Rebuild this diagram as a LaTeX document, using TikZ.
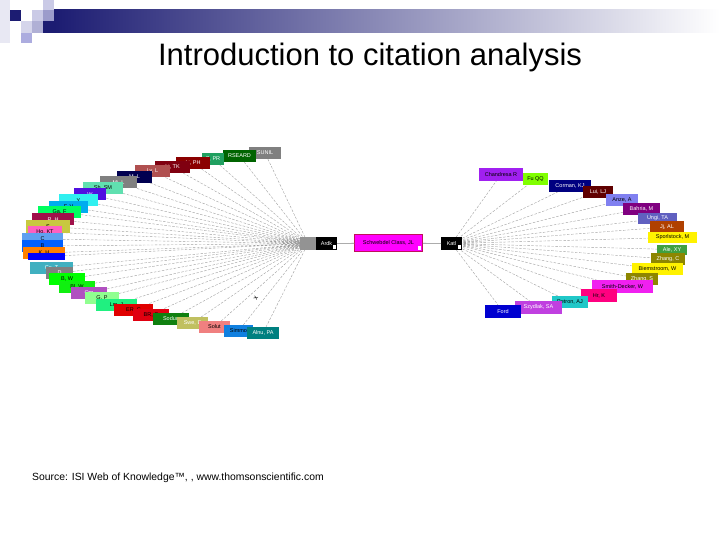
\documentclass[tikz,border=0pt]{standalone}
\usepackage{fontspec}
\setmainfont{Liberation Sans}
\usepackage{xcolor}
\usetikzlibrary{positioning}
\definecolor{barnavy}{HTML}{1C1C72}
\definecolor{faintsq}{HTML}{E8E8F3}
\definecolor{palesq}{HTML}{CACAE6}
\definecolor{midsq}{HTML}{9C9CCB}
\definecolor{magbox}{HTML}{FF00FF}
\definecolor{magedge}{HTML}{C0105A}
\definecolor{navybox}{HTML}{000080}
\pgfdeclarelayer{background}
\pgfsetlayers{background,main}

\begin{document}
\begin{tikzpicture}[x=1pt,y=-1pt,
  box/.style={minimum height=12pt, inner sep=0pt, outer sep=0pt, font=\fontsize{5.5}{6}\selectfont, text=white},
  dark/.style={text=black},
  link/.style={draw=gray!75, line width=0.4pt, dash pattern=on 2.5pt off 1.5pt},
  wire/.style={draw=gray, line width=0.6pt},
  knob/.style={fill=white, minimum width=3pt, minimum height=4pt, inner sep=0pt}]
\useasboundingbox (0,0) rectangle (720,540);

\fill[faintsq] (0,0) rectangle (10,43);
\fill[barnavy] (10,10) rectangle (21,21);
\fill[palesq] (43,0) rectangle (54,10);
\fill[palesq] (32,10) rectangle (43,21);
\fill[midsq] (43,10) rectangle (54,21);
\fill[palesq!80] (21,21) rectangle (32,33);
\fill[midsq!80] (32,21) rectangle (43,33);
\fill[barnavy] (43,21) rectangle (54,33);
\fill[midsq!110!black] (21,33) rectangle (32,43);
\shade[left color=barnavy, right color=white] (54,10) rectangle (720,33);

\node (title) at (370,57.5) {\fontsize{31}{31}\selectfont Introduction to citation analysis};

\node[box, fill=gray, minimum width=32pt] (lft1) at (265,153) {SUNIL};
\node[box, fill={rgb,255:red,0;green,100;blue,0}, minimum width=33pt] (lft2) at (239.5,156) {RSEARD};
\node[box, fill={rgb,255:red,32;green,160;blue,96}, minimum width=22pt] (lft3) at (213,159) {S, PR};
\node[box, fill={rgb,255:red,139;green,0;blue,0}, minimum width=34pt] (lft4) at (193,163) {Li, PH};
\node[box, fill={rgb,255:red,128;green,0;blue,16}, minimum width=35pt] (lft5) at (172.5,167) {Li, TK};
\node[box, fill={rgb,255:red,176;green,80;blue,80}, minimum width=35pt] (lft6) at (152.5,171.5) {Ly, L};
\node[box, fill={rgb,255:red,0;green,0;blue,80}, minimum width=35pt] (lft7) at (134.5,177) {M, L};
\node[box, fill=gray, minimum width=37pt] (lft8) at (118.5,182.5) {Mi, L};
\node[box, dark, fill={rgb,255:red,96;green,224;blue,176}, minimum width=40pt] (lft9) at (103,188) {Sh, SM};
\node[box, fill={rgb,255:red,80;green,16;blue,224}, minimum width=32pt] (lft10) at (90,194.5) {W};
\node[box, dark, fill={rgb,255:red,48;green,240;blue,240}, minimum width=39pt] (lft11) at (78.5,200.5) {Y};
\node[box, dark, fill=cyan, minimum width=39pt] (lft12) at (68.5,207) {F, V};
\node[box, dark, fill={rgb,255:red,0;green,255;blue,96}, minimum width=43pt] (lft13) at (59.5,212) {Ga, F};
\node[box, fill={rgb,255:red,160;green,16;blue,74}, minimum width=42pt] (lft14) at (53,219.5) {R, H};
\node[box, dark, fill={rgb,255:red,200;green,200;blue,64}, minimum width=44pt] (lft15) at (48,226.5) {S};
\node[box, dark, fill={rgb,255:red,255;green,96;blue,192}, minimum width=34pt] (lft16) at (45,232) {Ho, KT};
\node[box, dark, fill={rgb,255:red,96;green,160;blue,240}, minimum width=41pt] (lft17) at (42.5,239) {C};
\node[box, dark, fill={rgb,255:red,0;green,96;blue,255}, minimum width=41pt] (lft18) at (42.5,246) {B};
\node[box, dark, fill={rgb,255:red,255;green,128;blue,0}, minimum width=42pt] (lft19) at (44,253) {K, H};
\node[box, fill=blue, minimum width=37pt, minimum height=7pt] (lft20) at (46.5,256.5) {};
\node[box, fill={rgb,255:red,64;green,176;blue,192}, minimum width=43pt] (lft21) at (51.5,268) {Gs, T};
\node[box, fill=gray, minimum width=27pt] (lft22) at (59.5,273) {D};
\node[box, dark, fill=green, minimum width=36pt] (lft23) at (67,279) {B, W};
\node[box, dark, fill={rgb,255:red,16;green,240;blue,16}, minimum width=36pt] (lft24) at (77,286.5) {Bl, W};
\node[box, fill={rgb,255:red,176;green,80;blue,192}, minimum width=36pt] (lft25) at (89,293) {Om};
\node[box, dark, fill={rgb,255:red,144;green,255;blue,144}, minimum width=34pt] (lft26) at (102,298) {G, P};
\node[box, dark, fill={rgb,255:red,32;green,240;blue,128}, minimum width=41pt] (lft27) at (116.5,304.5) {Lm, J};
\node[box, dark, fill={rgb,255:red,224;green,0;blue,0}, minimum width=39pt] (lft28) at (133.5,309.5) {ER, C};
\node[box, dark, fill={rgb,255:red,224;green,0;blue,16}, minimum width=36pt] (lft29) at (151,314.5) {BR, C};
\node[box, fill={rgb,255:red,16;green,128;blue,16}, minimum width=36pt] (lft30) at (171,319) {Soduo};
\node[box, fill={rgb,255:red,192;green,192;blue,96}, minimum width=31pt] (lft31) at (192.5,323) {Swe, E};
\node[box, dark, fill={rgb,255:red,240;green,128;blue,128}, minimum width=31pt] (lft32) at (214.5,327) {Solut};
\node[box, dark, fill={rgb,255:red,16;green,128;blue,224}, minimum width=29pt] (lft33) at (238.5,331) {Simmo};
\node[box, fill={rgb,255:red,0;green,128;blue,128}, minimum width=32pt] (lft34) at (263,333) {Alnu, PA};
\node[rotate=65, inner sep=0pt, font=\fontsize{7}{7}\selectfont] (xmark) at (256,298) {x};

\node[box, fill=gray!85, minimum width=16pt, minimum height=13pt] (lhub) at (308,243.5) {};
\node[box, fill=black, minimum width=21pt, minimum height=13pt] (lsrc) at (326.5,243.5) {Ardk};
\node[box, dark, fill=magbox, draw=magedge, line width=1.5pt, minimum width=68pt, minimum height=17pt] (paper) at (388.5,243) {Schwebdel Class, JL};
\node[box, fill=black, minimum width=21pt, minimum height=13pt] (rsrc) at (451.5,243.5) {Katl};
\node[knob, anchor=south east] (lknob) at ([xshift=-1pt,yshift=1pt]lsrc.south east) {};
\node[knob, anchor=south east] (pknob) at ([xshift=-1pt,yshift=1pt]paper.south east) {};
\node[knob, anchor=south east] (rknob) at ([xshift=-1pt,yshift=1pt]rsrc.south east) {};
\draw[wire] (lsrc) -- (paper);
\draw[wire] (paper) -- (rsrc);

\node[box, dark, fill={rgb,255:red,160;green,32;blue,240}, minimum width=44pt, minimum height=13pt] (rgt1) at (501,174.5) {Chandresa R};
\node[box, dark, fill={rgb,255:red,128;green,255;blue,0}, minimum width=25pt] (rgt2) at (535.5,179) {Fu QQ};
\node[box, fill=navybox, minimum width=42pt] (rgt3) at (570,186) {Corman, KJ};
\node[box, fill={rgb,255:red,96;green,0;blue,0}, minimum width=30pt] (rgt4) at (598,192) {Lui, LJ};
\node[box, dark, fill={rgb,255:red,128;green,128;blue,240}, minimum width=32pt] (rgt5) at (622,200) {Anze, A};
\node[box, fill={rgb,255:red,128;green,0;blue,128}, minimum width=37pt] (rgt6) at (641.5,209) {Bahria, M};
\node[box, fill={rgb,255:red,96;green,96;blue,192}, minimum width=39pt, minimum height=11pt] (rgt7) at (657.5,218.5) {Ungi, TA};
\node[box, fill={rgb,255:red,176;green,64;blue,0}, minimum width=34pt] (rgt8) at (667,227) {Jj, AL};
\node[box, dark, fill=yellow, minimum width=49pt, minimum height=11pt] (rgt9) at (672.5,237.5) {Sporlstock, M};
\node[box, fill={rgb,255:red,64;green,160;blue,64}, minimum width=30pt, minimum height=10pt] (rgt10) at (672,249.5) {Ale, XY};
\node[box, fill=olive, minimum width=34pt] (rgt11) at (668,259) {Zhang, C};
\node[box, dark, fill=yellow, minimum width=51pt] (rgt12) at (657.5,269) {Biemstroom, W};
\node[box, fill=olive, minimum width=32pt] (rgt13) at (642,279) {Zhang, S};
\node[box, dark, fill={rgb,255:red,240;green,32;blue,240}, minimum width=61pt, minimum height=13pt] (rgt14) at (622.5,286.5) {Smith-Decker, W};
\node[box, dark, fill={rgb,255:red,255;green,0;blue,128}, minimum width=36pt, minimum height=13pt] (rgt15) at (599,295.5) {Hr, K};
\node[box, dark, fill={rgb,255:red,32;green,200;blue,200}, minimum width=36pt] (rgt16) at (570,302) {Petron, AJ};
\node[box, fill={rgb,255:red,192;green,64;blue,224}, minimum width=47pt, minimum height=13pt] (rgt17) at (538.5,307.5) {Szydlak, SA};
\node[box, fill={rgb,255:red,0;green,0;blue,208}, minimum width=36pt, minimum height=13pt] (rgt18) at (503,311.5) {Ford};

\begin{pgfonlayer}{background}
\draw[link] (lft1) -- (lhub.center) (lft2) -- (lhub.center) (lft3) -- (lhub.center)
  (lft4) -- (lhub.center) (lft5) -- (lhub.center) (lft6) -- (lhub.center)
  (lft7) -- (lhub.center) (lft8) -- (lhub.center) (lft9) -- (lhub.center)
  (lft10) -- (lhub.center) (lft11) -- (lhub.center) (lft12) -- (lhub.center)
  (lft13) -- (lhub.center) (lft14) -- (lhub.center) (lft15) -- (lhub.center)
  (lft16) -- (lhub.center) (lft17) -- (lhub.center) (lft18) -- (lhub.center)
  (lft19) -- (lhub.center) (lft20) -- (lhub.center) (lft21) -- (lhub.center)
  (lft22) -- (lhub.center) (lft23) -- (lhub.center) (lft24) -- (lhub.center)
  (lft25) -- (lhub.center) (lft26) -- (lhub.center) (lft27) -- (lhub.center)
  (lft28) -- (lhub.center) (lft29) -- (lhub.center) (lft30) -- (lhub.center)
  (lft31) -- (lhub.center) (lft32) -- (lhub.center) (lft33) -- (lhub.center)
  (lft34) -- (lhub.center);
\draw[link] (rsrc.center) -- (rgt1) (rsrc.center) -- (rgt2) (rsrc.center) -- (rgt3)
  (rsrc.center) -- (rgt4) (rsrc.center) -- (rgt5) (rsrc.center) -- (rgt6)
  (rsrc.center) -- (rgt7) (rsrc.center) -- (rgt8) (rsrc.center) -- (rgt9)
  (rsrc.center) -- (rgt10) (rsrc.center) -- (rgt11) (rsrc.center) -- (rgt12)
  (rsrc.center) -- (rgt13) (rsrc.center) -- (rgt14) (rsrc.center) -- (rgt15)
  (rsrc.center) -- (rgt16) (rsrc.center) -- (rgt17) (rsrc.center) -- (rgt18);
\end{pgfonlayer}

\node[anchor=west, inner sep=0pt, font=\fontsize{10.4}{11}\selectfont] (source) at (32,478) {Source: ISI Web of Knowledge™, , www.thomsonscientific.com};
\end{tikzpicture}
\end{document}
